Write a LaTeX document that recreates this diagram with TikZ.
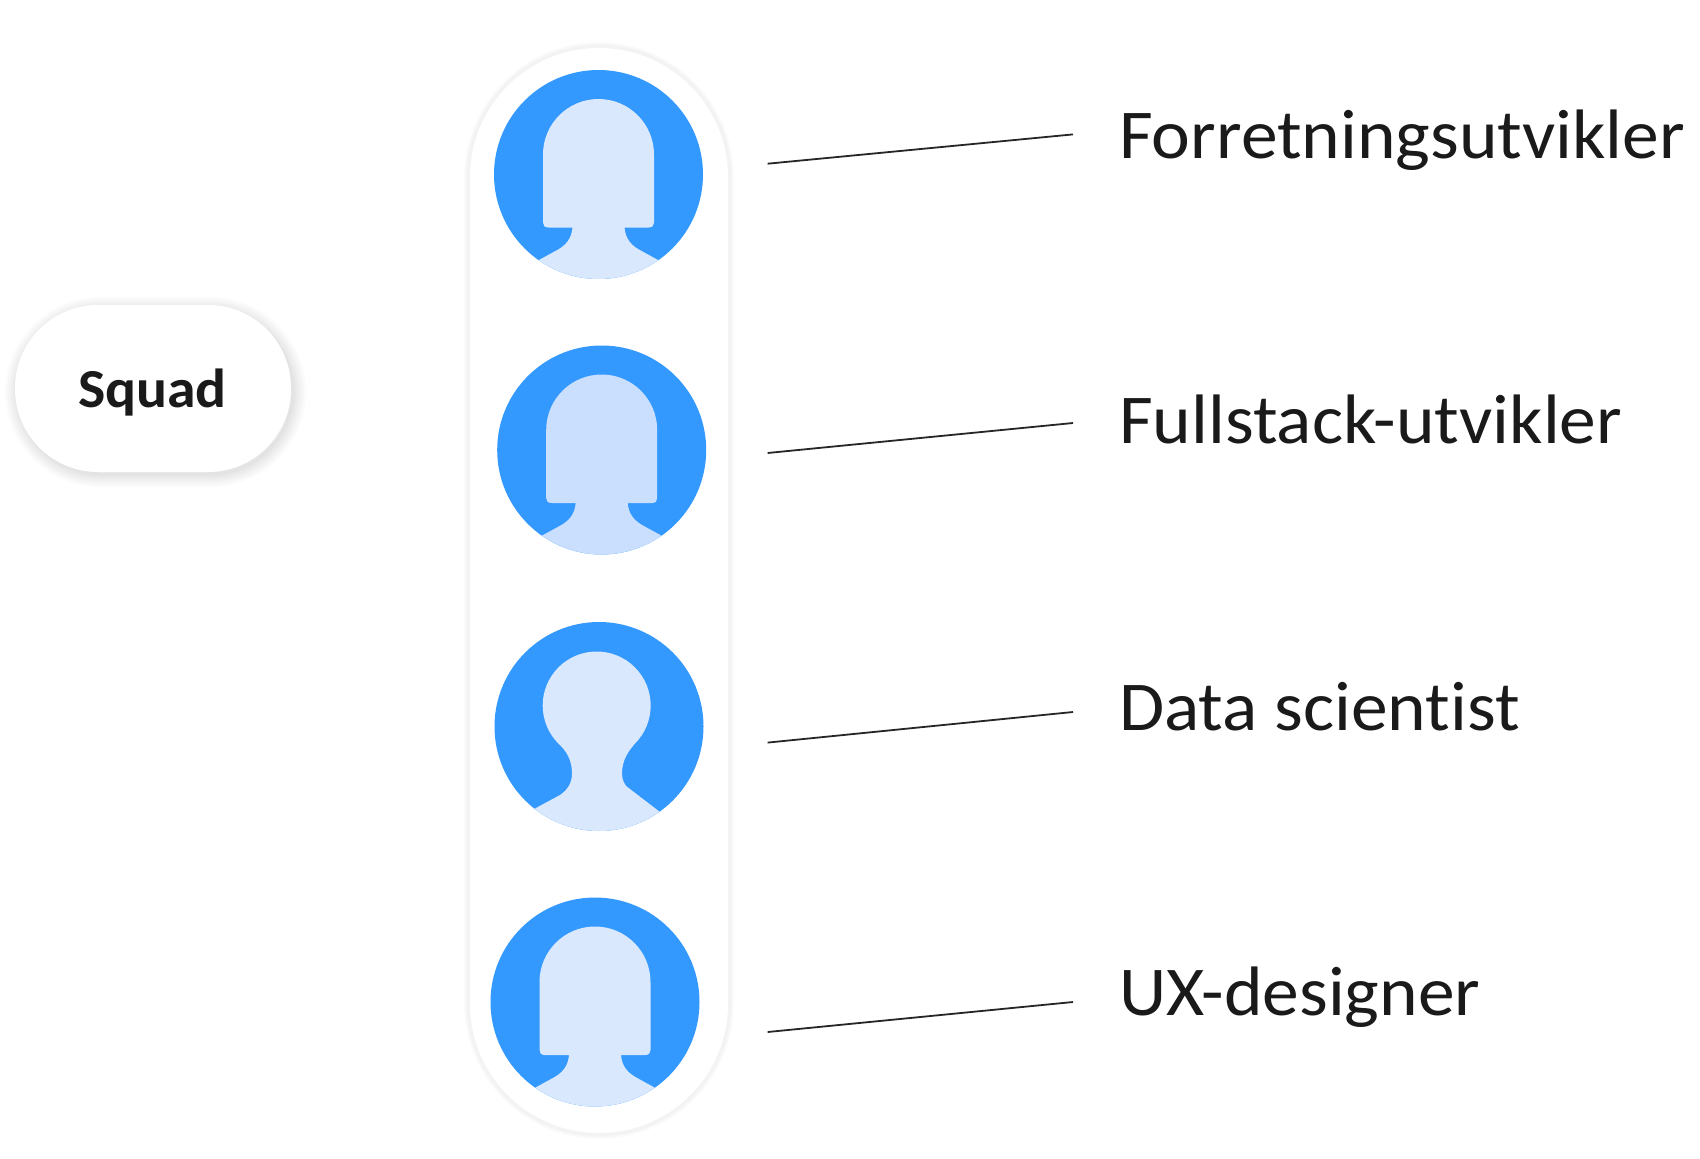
\documentclass[tikz,border=0pt]{standalone}
\usepackage{fontspec}
\setmainfont{Carlito}[Ligatures=NoCommon,FakeStretch=1.05]
\definecolor{avblue}{HTML}{3399FF}
\definecolor{avlight}{HTML}{D9E8FD}
\definecolor{avmid}{HTML}{C9DFFD}
\definecolor{txt}{HTML}{1A1A1A}
\tikzset{
  x=1pt,y=-1pt,
  avatar/.style={circle,fill=avblue,draw=none,minimum size=209pt,inner sep=0pt},
  role/.style={anchor=base west,inner sep=0pt,text=txt,font=\fontsize{70}{78}\selectfont},
  lead/.style={draw=black!85,line width=1.8pt},
  softedge/.style={draw=black,line width=#1},
}
\newcommand{\hoodshape}[2]{%
  \begin{scope}[shift={(#1)}]
    \clip (0,0) circle[radius=104.5];
    \fill[#2] (-59.5,85.5) -- (-44,77) .. controls (-32,71) and (-27,64) .. (-26,53)
      -- (-50,53) .. controls (-54,53) and (-55.5,51) .. (-55.5,48)
      -- (-55.5,-20) arc[start angle=180,end angle=0,x radius=55.5,y radius=-55.5]
      -- (55.5,48) .. controls (55.5,51) and (54,53) .. (50,53)
      -- (26,53) .. controls (27,64) and (32,71) .. (44,77) -- (59.5,85.5)
      -- (59.5,125) -- (-59.5,125) -- cycle;
  \end{scope}}
\newcommand{\roundshape}[2]{%
  \begin{scope}[shift={(#1)}]
    \clip (0,0) circle[radius=104.5];
    \fill[#2] (-64,82) -- (-39,68.5) .. controls (-31,63) and (-27,56) .. (-27,47)
      .. controls (-27,33) and (-33,24) .. (-40.5,17.2)
      arc[start angle=225,end angle=-45,x radius=54,y radius=-54]
      .. controls (30,24) and (23,33) .. (23,47)
      .. controls (23,53) and (25,57) .. (27.7,60) -- (61,85.5)
      -- (61,125) -- (-64,125) -- cycle;
  \end{scope}}
\begin{document}
\begin{tikzpicture}
\useasboundingbox (0,0) rectangle (1700,1159);
\fill[white] (0,0) rectangle (1700,1159);
% tall pill
\foreach \w in {12,10,8,6}{
  \draw[softedge=\w pt,draw opacity=0.01,rounded corners=129pt] (470,48) rectangle (728,1133);}
\fill[white,rounded corners=129pt] (470,48) rectangle (728,1133);
% Squad pill
\foreach \w in {26,22,18,14,10,6,3}{
  \draw[softedge=\w pt,draw opacity=0.016,rounded corners=83pt] (18,310) rectangle (293,474);}
\node[fill=white,rounded corners=83pt,minimum width=276pt,minimum height=167pt,inner sep=0pt] (squad) at (153,388.5) {};
\node[anchor=base,inner sep=0pt,text=txt,font=\fontsize{55}{60}\selectfont\bfseries] (squadtext) at (152.5,407) {Squad};
% avatars
\node[avatar] (a1) at (598.5,174.5) {};
\hoodshape{a1.center}{avlight}
\node[avatar] (a2) at (601.7,450) {};
\hoodshape{a2.center}{avmid}
\node[avatar] (a3) at (599,726.5) {};
\roundshape{a3.center}{avlight}
\node[avatar] (a4) at (595,1002) {};
\hoodshape{a4.center}{avlight}
% labels
\node[role] (r1) at (1119,158) {Forretningsutvikler};
\node[role] (r2) at (1119,443.5) {Fullstack-utvikler};
\node[role] (r3) at (1119,730) {Data scientist};
\node[role] (r4) at (1119,1015) {UX-designer};
% leaders
\coordinate (l1a) at (767.6,163.7); \coordinate (l1b) at (1073,134.4);
\coordinate (l2a) at (767.6,453);   \coordinate (l2b) at (1073,423);
\coordinate (l3a) at (767.6,742.6); \coordinate (l3b) at (1073,712);
\coordinate (l4a) at (767.6,1032);  \coordinate (l4b) at (1073,1002);
\draw[lead] (l1a) -- (l1b);
\draw[lead] (l2a) -- (l2b);
\draw[lead] (l3a) -- (l3b);
\draw[lead] (l4a) -- (l4b);
\end{tikzpicture}
\end{document}
